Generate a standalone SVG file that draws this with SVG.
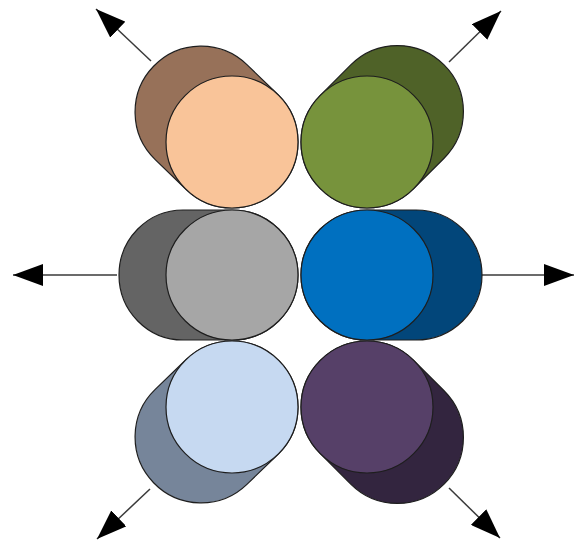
<svg xmlns="http://www.w3.org/2000/svg" width="576" height="541" viewBox="0 0 576 541">
  <style>
    .conn { stroke: #3a3a3a; stroke-width: 1.5; fill: none; }
    .shape { stroke: #1e1e1e; stroke-width: 1.2; }
  </style>
  <defs>
    <marker id="arrow" markerUnits="userSpaceOnUse" markerWidth="30" markerHeight="22" viewBox="0 0 30 22" refX="30" refY="11" orient="auto">
      <path d="M0,0 L30,11 L0,22 Z" fill="#000"/>
    </marker>
  </defs>
  <rect width="576" height="541" fill="#fff"/>
  <g id="connectors">
    <line class="conn" x1="151" y1="61" x2="96" y2="9" marker-end="url(#arrow)"/>
    <line class="conn" x1="449" y1="62" x2="501" y2="11" marker-end="url(#arrow)"/>
    <line class="conn" x1="117" y1="275" x2="13" y2="275" marker-end="url(#arrow)"/>
    <line class="conn" x1="482" y1="275" x2="574" y2="275" marker-end="url(#arrow)"/>
    <line class="conn" x1="150" y1="489" x2="97" y2="539" marker-end="url(#arrow)"/>
    <line class="conn" x1="449" y1="488" x2="500" y2="538" marker-end="url(#arrow)"/>
  </g>
  <g id="node-top-left" transform="translate(232,142)">
    <path class="shape" fill="#977159" transform="rotate(-136)" d="M0,-66 L43,-66 A66,66 0 0 1 43,66 L0,66 A66,66 0 0 1 0,-66 Z"/>
    <circle class="shape" fill="#F9C499" cx="0" cy="0" r="66"/>
  </g>
  <g id="node-top-right" transform="translate(367,142)">
    <path class="shape" fill="#4F6228" transform="rotate(-45)" d="M0,-66 L43,-66 A66,66 0 0 1 43,66 L0,66 A66,66 0 0 1 0,-66 Z"/>
    <circle class="shape" fill="#77933C" cx="0" cy="0" r="66"/>
  </g>
  <g id="node-mid-left" transform="translate(232,275)">
    <path class="shape" fill="#646464" transform="rotate(180)" d="M0,-65 L49,-65 A64,65 0 0 1 49,65 L0,65 A66,65 0 0 1 0,-65 Z"/>
    <ellipse class="shape" fill="#A6A6A6" cx="0" cy="0" rx="66" ry="65"/>
  </g>
  <g id="node-mid-right" transform="translate(367,275)">
    <path class="shape" fill="#02467A" d="M0,-65 L49,-65 A66,65 0 0 1 49,65 L0,65 A66,65 0 0 1 0,-65 Z"/>
    <ellipse class="shape" fill="#0070C0" cx="0" cy="0" rx="66" ry="65"/>
  </g>
  <g id="node-bottom-left" transform="translate(232,407)">
    <path class="shape" fill="#76859A" transform="rotate(136)" d="M0,-66 L43,-66 A66,66 0 0 1 43,66 L0,66 A66,66 0 0 1 0,-66 Z"/>
    <circle class="shape" fill="#C6D9F1" cx="0" cy="0" r="66"/>
  </g>
  <g id="node-bottom-right" transform="translate(367,407)">
    <path class="shape" fill="#33253F" transform="rotate(45)" d="M0,-66 L43,-66 A66,66 0 0 1 43,66 L0,66 A66,66 0 0 1 0,-66 Z"/>
    <circle class="shape" fill="#564068" cx="0" cy="0" r="66"/>
  </g>
</svg>
